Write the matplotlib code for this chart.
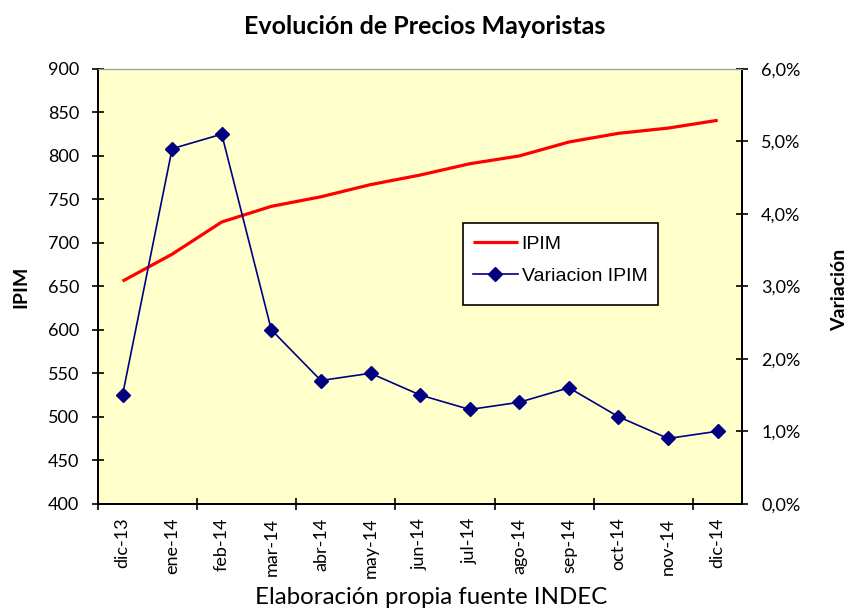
import matplotlib
matplotlib.use("Agg")
import matplotlib.pyplot as plt
from matplotlib.ticker import FuncFormatter, FixedLocator, NullFormatter
from matplotlib.patches import Rectangle

categories = ["dic-13", "ene-14", "feb-14", "mar-14", "abr-14", "may-14", "jun-14",
              "jul-14", "ago-14", "sep-14", "oct-14", "nov-14", "dic-14"]
ipim = [656, 687, 724, 742, 753, 767, 778, 791, 800, 816, 826, 832, 841]
variacion = [1.5, 4.9, 5.1, 2.4, 1.7, 1.8, 1.5, 1.3, 1.4, 1.6, 1.2, 0.9, 1.0]

FONT = "Lato"
fig = plt.figure(figsize=(8.5, 6.1), dpi=100)
ax = fig.add_axes([0.115, 0.1743, 0.7585, 0.7126])
ax.set_facecolor("#FFFFCC")
x = list(range(len(categories)))

ax.plot(x, ipim, color="#FF0000", lw=2.3, solid_capstyle="butt", label="IPIM", zorder=3)
ax.set_xlim(-0.5, len(categories) - 0.5)
ax.set_ylim(400, 900)
ax.set_yticks(range(400, 901, 50))

ax2 = ax.twinx()
ax2.plot(x, variacion, color="#000080", lw=1.2, marker="D", ms=7.5,
         markerfacecolor="#000080", markeredgecolor="#000080", label="Variacion IPIM")
ax2.set_ylim(0, 6)
ax2.set_yticks(range(0, 7))
ax2.yaxis.set_major_formatter(FuncFormatter(lambda v, p: f"{v:.1f}%".replace(".", ",")))

# x axis: ticks every two categories at boundaries, labels at each category
ax.xaxis.set_major_locator(FixedLocator([i - 0.5 for i in range(0, len(categories), 2)]))
ax.xaxis.set_major_formatter(NullFormatter())
ax.set_xticks(x, minor=True)
ax.set_xticklabels(categories, minor=True, rotation=90, fontfamily=FONT, fontsize=13)
ax.tick_params(axis="x", which="minor", length=0, pad=10)
ax.tick_params(axis="x", which="major", direction="inout", length=9, width=1.2)

ax.tick_params(axis="y", direction="inout", length=9, width=1.2, pad=9, labelsize=13)
for t in ax.get_yticklabels():
    t.set_fontfamily(FONT)
ax2.tick_params(axis="y", direction="inout", length=9, width=1.2, pad=9, labelsize=13)
for t in ax2.get_yticklabels():
    t.set_fontfamily(FONT)

for a in (ax, ax2):
    a.spines["top"].set_color("#999999")
    a.spines["left"].set_linewidth(1.3)
    a.spines["right"].set_linewidth(1.3)
    a.spines["bottom"].set_linewidth(1.3)

fig.text(0.5, 0.956, "Evolución de Precios Mayoristas", ha="center", va="center",
         fontsize=18, fontweight="bold", family=FONT)
fig.text(0.024, 0.530, "IPIM", rotation=90, ha="center", va="center",
         fontsize=14, fontweight="bold", family=FONT)
fig.text(0.988, 0.524, "Variación", rotation=90, ha="center", va="center",
         fontsize=14, fontweight="bold", family=FONT)
fig.text(0.507, 0.021, "Elaboración propia fuente INDEC", ha="center", va="center",
         fontsize=17.3, family=FONT)

# legend box
box = Rectangle((0.567, 0.457), 0.302, 0.188, transform=ax2.transAxes,
                facecolor="white", edgecolor="black", lw=1.2, zorder=4)
ax2.add_patch(box)
h1, l1 = ax.get_legend_handles_labels()
h2, l2 = ax2.get_legend_handles_labels()
leg = ax2.legend(h1 + h2, l1 + l2, loc="upper left", bbox_to_anchor=(0.567, 0.640),
                 borderaxespad=0, frameon=False,
                 prop={"family": "Liberation Sans", "size": 14},
                 handlelength=2.3, handletextpad=0.2, labelspacing=0.75,
                 borderpad=0.5)
leg.set_zorder(5)

fig.savefig("out.png", dpi=100)
